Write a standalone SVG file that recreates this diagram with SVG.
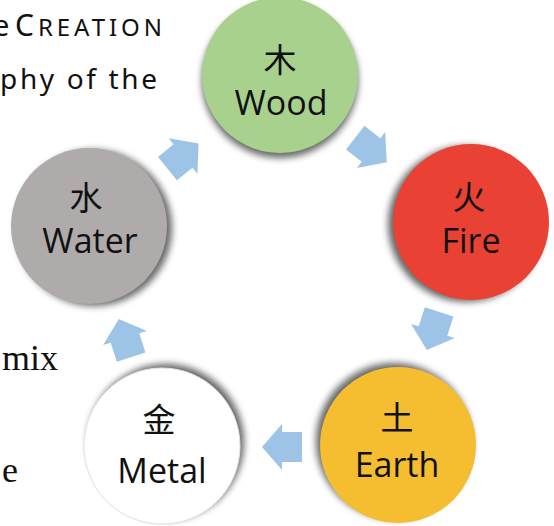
<svg xmlns="http://www.w3.org/2000/svg" width="554" height="526" viewBox="0 0 554 526">
  <style>
    .bg-sans { font-family: "Noto Sans", "Open Sans", sans-serif; fill: #111; }
    .bg-serif { font-family: "Liberation Serif", serif; fill: #111; }
    .shadow { fill: #000; opacity: 0.6; filter: url(#blur); }
    .cjk { font-family: "Noto Sans CJK SC", "Noto Sans CJK TC", sans-serif; font-size: 33px; fill: #111; text-anchor: middle; }
    .lbl { font-family: "Open Sans", "Noto Sans", sans-serif; font-size: 34px; fill: #111; text-anchor: middle; }
    .arrow { fill: #9DC3E6; }
  </style>
  <defs>
    <filter id="blur" x="-20%" y="-20%" width="140%" height="140%">
      <feGaussianBlur stdDeviation="3.5"/>
    </filter>
    <path id="blockArrow" d="M-20,-15 H0 V-23 L20,0 L0,23 V15 H-20 Z"/>
  </defs>
  <rect width="554" height="526" fill="#ffffff"/>

  <!-- background slide text (cut off) -->
  <text class="bg-sans" x="-7" y="36" font-size="29">e</text>
  <text class="bg-sans" x="15" y="36" font-size="30" textLength="147" lengthAdjust="spacing">C<tspan font-size="24">REATION</tspan></text>
  <text class="bg-sans" x="0" y="89" font-size="28" textLength="157" lengthAdjust="spacing">phy of the</text>
  <text class="bg-serif" x="2" y="370" font-size="36">mix</text>
  <text class="bg-serif" x="2" y="482" font-size="36">e</text>

  <g id="connectors">
    <use href="#blockArrow" class="arrow" transform="translate(183,156) rotate(-39)"/>
    <use href="#blockArrow" class="arrow" transform="translate(371,150) rotate(38)"/>
    <use href="#blockArrow" class="arrow" transform="translate(433,331) rotate(108)"/>
    <use href="#blockArrow" class="arrow" transform="translate(282,447) rotate(180)"/>
    <use href="#blockArrow" class="arrow" transform="translate(125,338) rotate(-108)"/>
  </g>

  <g id="node-wood">
    <circle class="shadow" cx="280" cy="80" r="78"/>
    <circle cx="280" cy="75" r="78" fill="#A9D18E"/>
    <text class="cjk" x="280" y="72">木</text>
    <text class="lbl" x="281" y="115">Wood</text>
  </g>

  <g id="node-fire">
    <circle class="shadow" cx="466" cy="224" r="78"/>
    <circle cx="471" cy="222" r="78" fill="#E94133"/>
    <text class="cjk" x="469" y="209">火</text>
    <text class="lbl" x="471" y="253">Fire</text>
  </g>

  <g id="node-earth">
    <circle class="shadow" cx="394" cy="441" r="78"/>
    <circle cx="398" cy="445" r="78" fill="#F4BE30"/>
    <text class="cjk" x="397" y="430">土</text>
    <text class="lbl" x="397" y="477">Earth</text>
  </g>

  <g id="node-metal">
    <circle class="shadow" cx="166" cy="442" r="78"/>
    <circle cx="162" cy="446" r="78" fill="#FFFFFF" stroke="#e4e4e4" stroke-width="1"/>
    <text class="cjk" x="159" y="432">金</text>
    <text class="lbl" x="162" y="483">Metal</text>
  </g>

  <g id="node-water">
    <circle class="shadow" cx="94" cy="228" r="78"/>
    <circle cx="89" cy="226" r="78" fill="#AFABAB"/>
    <text class="cjk" x="86" y="210">水</text>
    <text class="lbl" x="90" y="253">Water</text>
  </g>
</svg>
